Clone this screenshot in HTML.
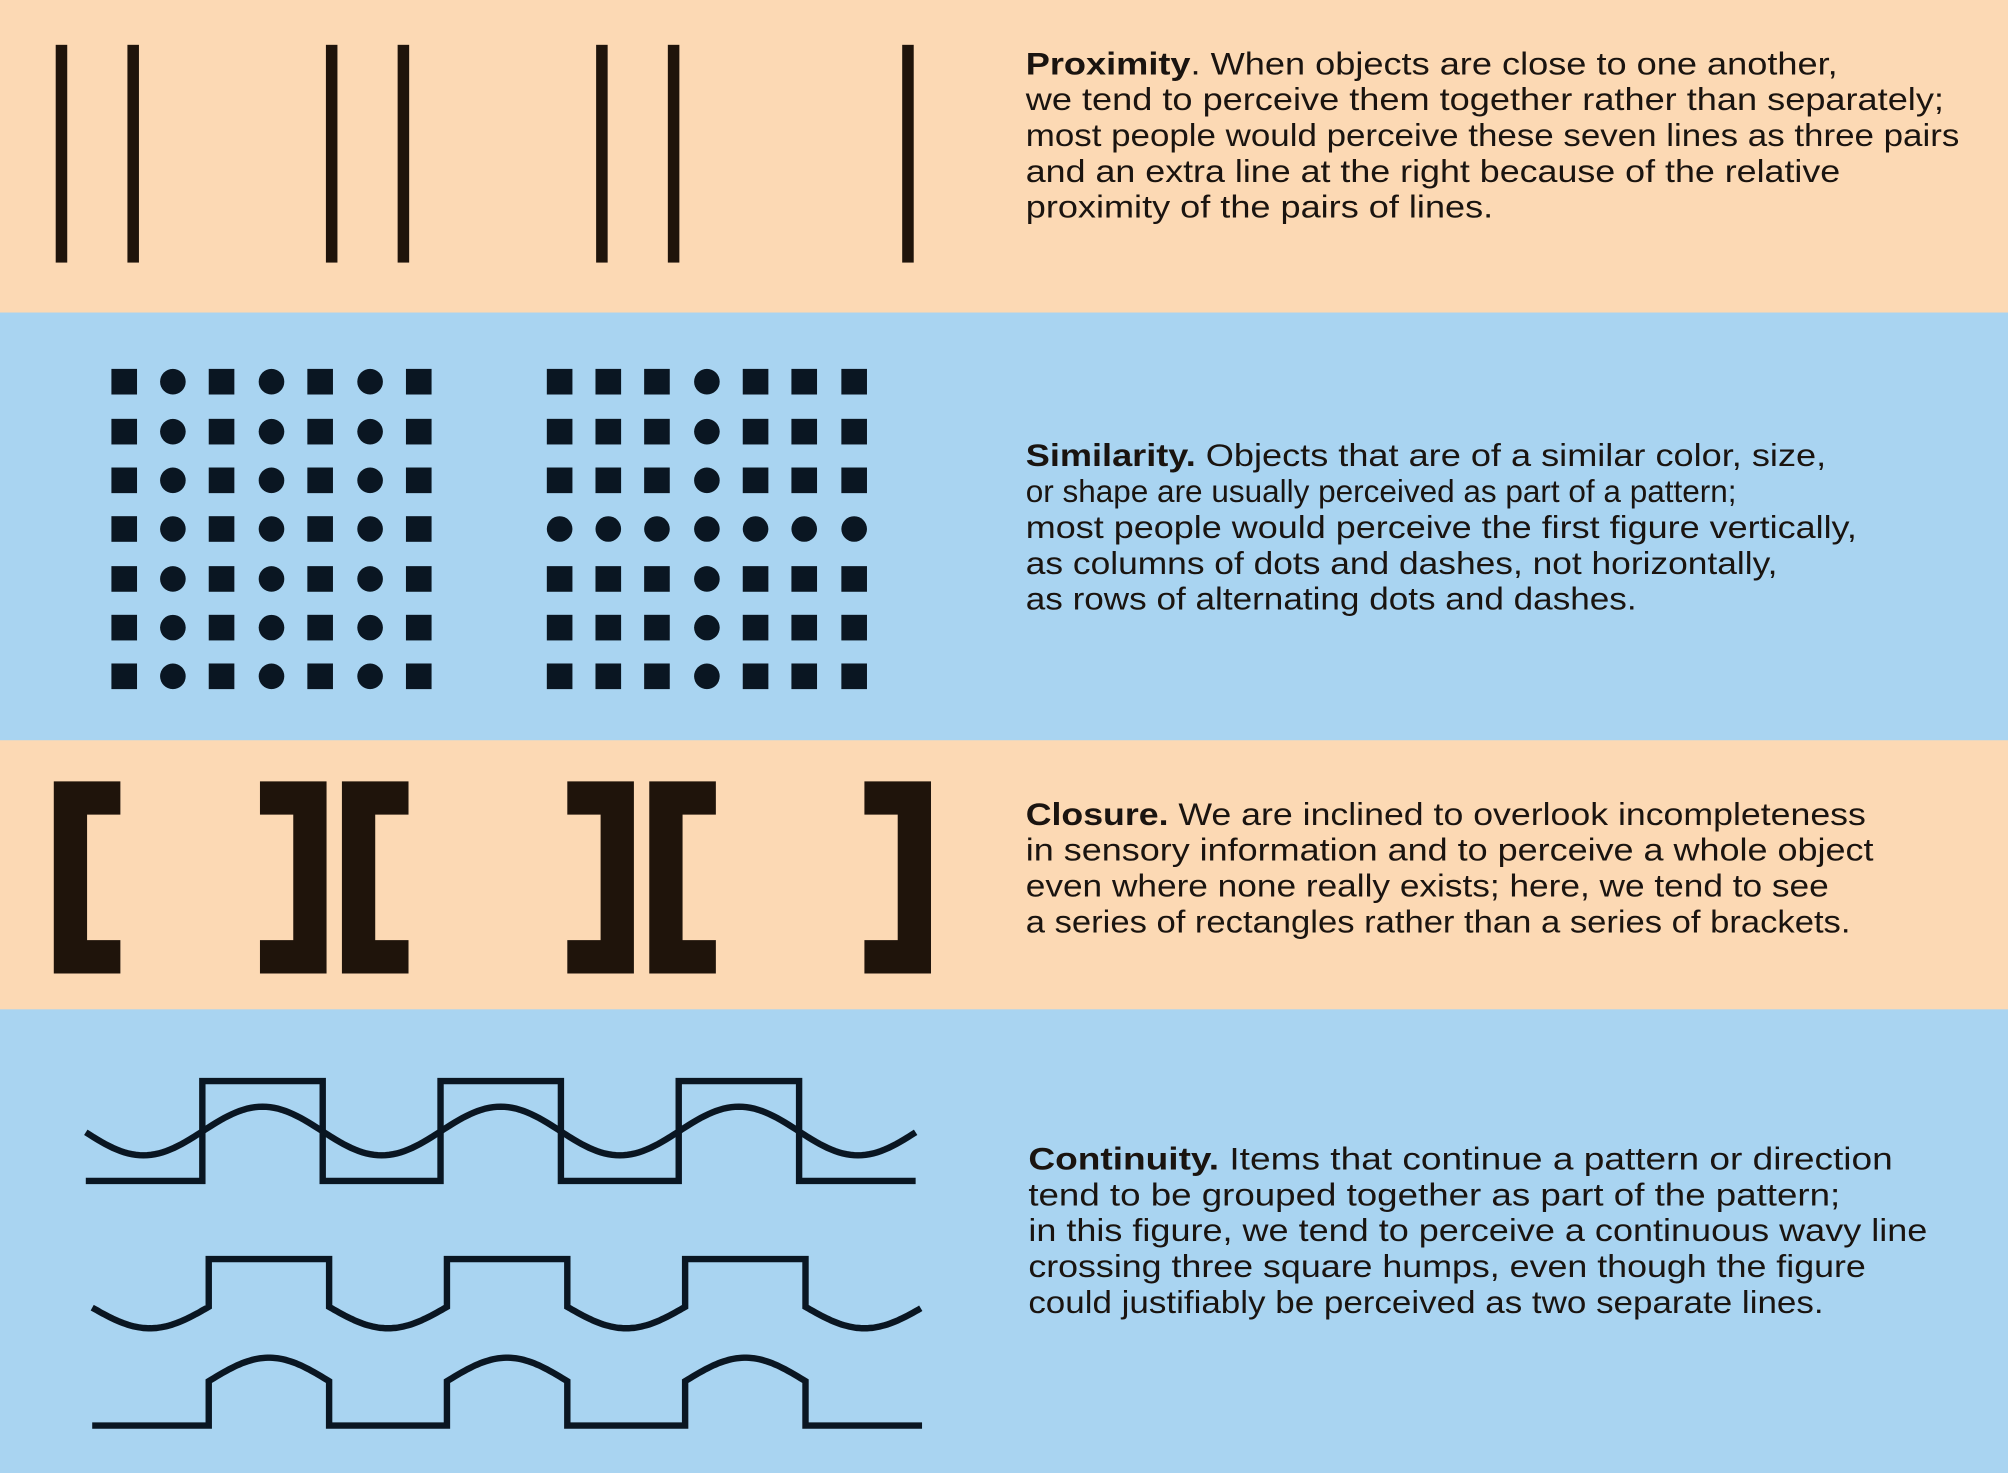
<!DOCTYPE html>
<html><head><meta charset="utf-8">
<style>
html,body{margin:0;padding:0;background:#fcd9b4;}
svg{display:block;}
text{font-family:"Liberation Sans",sans-serif;font-size:24.5px;fill:#1a1410;}
</style></head>
<body>
<svg id="fig" width="2008" height="1473" viewBox="0 0 1568 1150" preserveAspectRatio="none" xmlns="http://www.w3.org/2000/svg">
<rect x="0" y="0" width="1568" height="244" fill="#fcd9b4"/>
<rect x="0" y="244" width="1568" height="334" fill="#a9d4f1"/>
<rect x="0" y="578" width="1568" height="210" fill="#fcd9b4"/>
<rect x="0" y="788" width="1568" height="362" fill="#a9d4f1"/>
<g id="marks"></g>

<g>
<text x="801" y="58" textLength="634" lengthAdjust="spacingAndGlyphs"><tspan font-weight="bold">Proximity</tspan>. When objects are close to one another,</text>
<text x="801" y="86" textLength="717" lengthAdjust="spacingAndGlyphs">we tend to perceive them together rather than separately;</text>
<text x="801" y="114" textLength="729" lengthAdjust="spacingAndGlyphs">most people would perceive these seven lines as three pairs</text>
<text x="801" y="142" textLength="636" lengthAdjust="spacingAndGlyphs">and an extra line at the right because of the relative</text>
<text x="801" y="170" textLength="365" lengthAdjust="spacingAndGlyphs">proximity of the pairs of lines.</text>
</g>
<g>
<text x="801" y="364" textLength="625" lengthAdjust="spacingAndGlyphs"><tspan font-weight="bold">Similarity.</tspan> Objects that are of a similar color, size,</text>
<text x="801" y="392" textLength="555" lengthAdjust="spacingAndGlyphs">or shape are usually perceived as part of a pattern;</text>
<text x="801" y="420" textLength="649" lengthAdjust="spacingAndGlyphs">most people would perceive the first figure vertically,</text>
<text x="801" y="448" textLength="587" lengthAdjust="spacingAndGlyphs">as columns of dots and dashes, not horizontally,</text>
<text x="801" y="476" textLength="477" lengthAdjust="spacingAndGlyphs">as rows of alternating dots and dashes.</text>
</g>
<g>
<text x="801" y="644" textLength="656" lengthAdjust="spacingAndGlyphs"><tspan font-weight="bold">Closure.</tspan> We are inclined to overlook incompleteness</text>
<text x="801" y="672" textLength="662" lengthAdjust="spacingAndGlyphs">in sensory information and to perceive a whole object</text>
<text x="801" y="700" textLength="627" lengthAdjust="spacingAndGlyphs">even where none really exists; here, we tend to see</text>
<text x="801" y="728" textLength="644" lengthAdjust="spacingAndGlyphs">a series of rectangles rather than a series of brackets.</text>
</g>
<g>
<text x="803" y="913" textLength="675" lengthAdjust="spacingAndGlyphs"><tspan font-weight="bold">Continuity.</tspan> Items that continue a pattern or direction</text>
<text x="803" y="941" textLength="634" lengthAdjust="spacingAndGlyphs">tend to be grouped together as part of the pattern;</text>
<text x="803" y="969" textLength="702" lengthAdjust="spacingAndGlyphs">in this figure, we tend to perceive a continuous wavy line</text>
<text x="803" y="997" textLength="654" lengthAdjust="spacingAndGlyphs">crossing three square humps, even though the figure</text>
<text x="803" y="1025" textLength="621" lengthAdjust="spacingAndGlyphs">could justifiably be perceived as two separate lines.</text>
</g>
</svg>
<script>
const NS='http://www.w3.org/2000/svg';
const proximityLines=[48,104,259,315,470,526,709];
const gridCols1=[97,135,173,212,250,289,327];
const gridCols2=[437,475,513,552,590,628,667];
const gridRows=[298,337,375,413,452,490,528];
const bracketX=[42,203,267,443,507,675];
const bracketType=['L','R','L','R','L','R'];
const humpStarts=[158,344,530];
const humpWidth=94;
const marks=document.getElementById('marks');
function el(tag,attrs){const e=document.createElementNS(NS,tag);for(const k in attrs)e.setAttribute(k,attrs[k]);marks.appendChild(e);return e;}
const dark='#1f140b', navy='#0a1622';
proximityLines.forEach(x=>{
  const r=el('rect',{x:x-4.5,y:35,width:9,height:170,fill:dark});
  
  
});
function drawGrid(cols,isCircle){
  cols.forEach((cx,ci)=>gridRows.forEach((cy,ri)=>{
    let e;
    if(isCircle(ci,ri)) e=el('circle',{cx:cx,cy:cy,r:10,fill:navy});
    else e=el('rect',{x:cx-10,y:cy-10,width:20,height:20,fill:navy});
    
    
  }));
}
drawGrid(gridCols1,(c,r)=>c%2===1);
drawGrid(gridCols2,(c,r)=>c===3||r===3);
bracketX.forEach((x,i)=>{
  const w=52,h=150,t=26,y=610,ft=26;
  let d;
  if(bracketType[i]==='L') d=`M${x},${y}h${w}v${ft}h${-(w-t)}v${h-2*ft}h${w-t}v${ft}h${-w}z`;
  else d=`M${x},${y}h${w}v${h}h${-w}v${-ft}h${w-t}v${-(h-2*ft)}h${-(w-t)}z`;
  const p=el('path',{d:d,fill:dark});
  
  
});
const P=186;
function wave(x,center,amp,peakX,sign){return center-sign*amp*Math.cos(2*Math.PI*(x-peakX)/P);}
function stroke(d,name){const p=el('path',{d:d,fill:'none',stroke:navy,'stroke-width':5,'stroke-linejoin':'miter'});
  
  }
let d=`M67,922`;
humpStarts.forEach(s=>{d+=`L${s},922L${s},844L${s+humpWidth},844L${s+humpWidth},922`;});
d+=`L715,922`;stroke(d,'square-wave-line');
d='';for(let x=67;x<=715;x+=3){d+=(x===67?'M':'L')+x+','+wave(x,883,19,205,1).toFixed(1);}
stroke(d,'sine-wave-line');
function w2(x){return wave(x,1020,17,210,1);}
d='M72,'+w2(72).toFixed(1);
let x0=72;
humpStarts.forEach((s,i)=>{
  const a=s+5,b=s+5+humpWidth;
  for(let x=x0;x<=a;x+=2)d+='L'+x+','+w2(x).toFixed(1);
  d+=`L${a},${w2(a).toFixed(1)}L${a},983L${b},983L${b},${w2(b).toFixed(1)}`;
  x0=b;
});
for(let x=x0;x<=720;x+=2)d+='L'+x+','+w2(x).toFixed(1);
stroke(d,'wavy-hump-line');
d='M72,1113';
humpStarts.forEach(s=>{
  const a=s+5,b=s+5+humpWidth;
  d+=`L${a},1113L${a},${wave(a,1078,18,a+47,1).toFixed(1)}`;
  for(let x=a;x<=b;x+=2)d+='L'+x+','+wave(x,1078,18,a+47,1).toFixed(1);
  d+=`L${b},${wave(b,1078,18,a+47,1).toFixed(1)}L${b},1113`;
});
d+='L720,1113';stroke(d,'arched-hump-line');
</script>
</body></html>
